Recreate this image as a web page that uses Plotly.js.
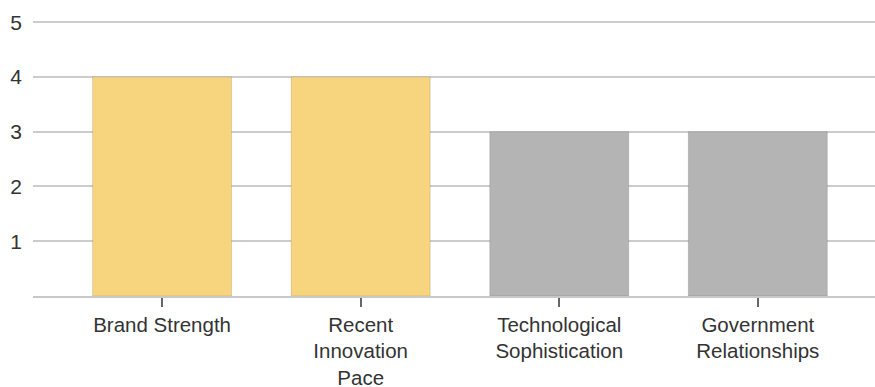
<!DOCTYPE html>
<html>
<head>
<meta charset="utf-8">
<script src="https://cdn.plot.ly/plotly-3.0.1.min.js"></script>
<style>
  html, body { margin: 0; padding: 0; background: #fff; overflow: hidden; }
  #chart { width: 875px; height: 387px; }
</style>
</head>
<body>
<div id="chart"></div>
<script>
// Factor scores
const categories = [
  "Brand Strength",
  "Recent<br>Innovation<br>Pace",
  "Technological<br>Sophistication",
  "Government<br>Relationships"
];
const scores = [4, 4, 3, 3];
const yTicks = [1, 2, 3, 4, 5];

// First two factors are highlighted
const highlightColor = "#F7D57E";
const baseColor = "#B4B4B4";
const barColors = scores.map((_, i) => (i < 2 ? highlightColor : baseColor));

const trace = {
  type: "bar",
  x: categories,
  y: scores,
  marker: {
    color: barColors,
    line: { color: "rgba(0,0,0,0.12)", width: 1 }
  },
  hoverinfo: "x+y"
};

const layout = {
  width: 875,
  height: 387,
  margin: { l: 33, r: 0, t: 20, b: 91, pad: 0 },
  paper_bgcolor: "#ffffff",
  plot_bgcolor: "#ffffff",
  font: { family: "Liberation Sans, Arial, Helvetica, sans-serif", size: 20.5, color: "#333333" },
  showlegend: false,
  bargap: 0.3,
  xaxis: {
    type: "category",
    range: [-0.65, 3.59],
    automargin: false,
    showgrid: false,
    showline: true,
    linecolor: "#c8c8c8",
    linewidth: 2,
    ticks: "outside",
    ticklen: 9,
    tickwidth: 2,
    tickcolor: "#666666",
    tickfont: { size: 20.5, color: "#333333" },
    fixedrange: true
  },
  yaxis: {
    range: [0, 5.04],
    automargin: false,
    tickvals: yTicks,
    ticktext: yTicks.map(String),
    showgrid: true,
    gridcolor: "#cccccc",
    gridwidth: 2,
    zeroline: false,
    showline: false,
    ticks: "",
    ticklabelstandoff: 10,
    tickfont: { size: 21, color: "#333333" },
    fixedrange: true
  }
};

Plotly.newPlot("chart", [trace], layout, { displayModeBar: false, staticPlot: true });
</script>
</body>
</html>
